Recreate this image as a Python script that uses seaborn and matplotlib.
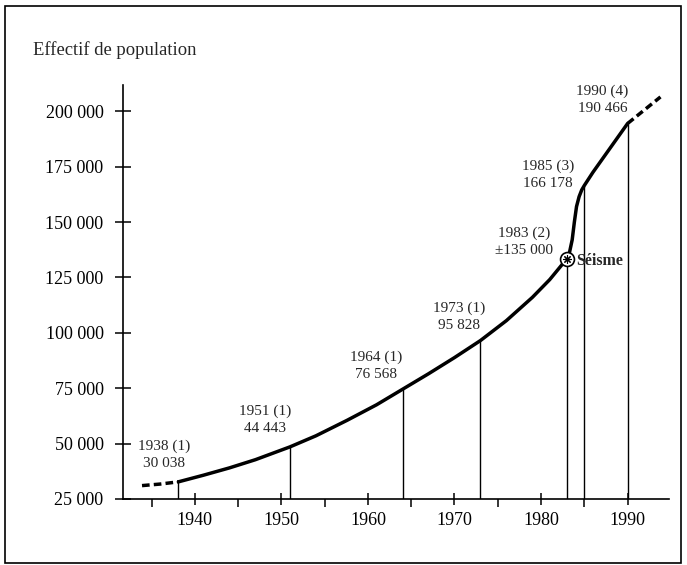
import matplotlib
matplotlib.use("Agg")
import matplotlib.pyplot as plt
import matplotlib.ticker as mticker
from matplotlib.patches import Rectangle
import seaborn as sns

# population curve
curve_years = [1938.1, 1941, 1944, 1947, 1951, 1954, 1957.6, 1961, 1964, 1967,
               1970, 1973, 1976, 1979, 1981, 1983, 1983.3, 1983.6, 1983.85,
               1984.1, 1984.4, 1984.7, 1985, 1985.5, 1986, 1988, 1990]
curve_pop = [32700, 35700, 39000, 42700, 48500, 53500, 60500, 67500, 74500, 81500,
             88800, 96500, 105500, 116000, 124000, 133500, 136500, 142000, 150000,
             157000, 161500, 164500, 166500, 169500, 172500, 183500, 194500]

# dashed extrapolations at both ends
start_years = [1933.9, 1936, 1938.1]
start_pop = [31000, 31700, 32700]
end_years = [1990, 1993.8]
end_pop = [194500, 206500]

# census years (vertical lines) and their labels
census_years = [1938, 1951, 1964, 1973, 1983, 1985, 1990]
census_tops = [32700, 48500, 74500, 96500, 133500, 166500, 194500]
census_labels = ["1938 (1)\n30 038", "1951 (1)\n44 443", "1964 (1)\n76 568",
                 "1973 (1)\n95 828", "1983 (2)\n\u00b1135 000", "1985 (3)\n166 178",
                 "1990 (4)\n190 466"]
label_x = [1936.4, 1948.1, 1960.9, 1970.5, 1978.0, 1980.8, 1987.1]
label_y = [44900, 60700, 85100, 107300, 141200, 171500, 205400]

sns.set_style("ticks")
plt.rcParams['font.family'] = ['Liberation Serif', 'DejaVu Serif']

fig = plt.figure(figsize=(6.87, 5.65), dpi=100)
ax = fig.add_axes([0.179, 0.117, 0.795, 0.733])

sns.lineplot(x=curve_years, y=curve_pop, ax=ax, color='black', lw=2.5,
             solid_joinstyle='round', solid_capstyle='round')
sns.lineplot(x=start_years, y=start_pop, ax=ax, color='black', lw=2.5,
             linestyle=(0, (2.2, 1.2)))
sns.lineplot(x=end_years, y=end_pop, ax=ax, color='black', lw=2.5,
             linestyle=(0, (2.2, 1.2)))

ax.vlines(census_years, 25000, census_tops, color='black', lw=1.0)

for x, y, t in zip(label_x, label_y, census_labels):
    ax.text(x, y, t, ha='center', va='center', fontsize=11, linespacing=1.4)

# earthquake marker
ax.plot(1983, 133500, marker='o', ms=10, mfc='white', mec='black', mew=1.2, zorder=5)
ax.plot(1983, 133500, marker=(8, 2, 0), ms=6, color='black', mew=0.8, zorder=6)
ax.text(1984.1, 132600, "Séisme", ha='left', va='center', fontsize=11.5,
        fontweight='bold')

ax.set_xlim(1931.7, 1994.8)
ax.set_ylim(25000, 212000)
ax.set_yticks(range(25000, 200001, 25000))
ax.yaxis.set_major_formatter(mticker.FuncFormatter(
    lambda v, p: f"{int(v):,}".replace(",", " ")))
ax.xaxis.set_major_locator(mticker.MultipleLocator(10))
ax.xaxis.set_minor_locator(mticker.MultipleLocator(5))

for s in ['top', 'right']:
    ax.spines[s].set_visible(False)
for s in ['left', 'bottom']:
    ax.spines[s].set_linewidth(1.2)
    ax.spines[s].set_color('black')

ax.tick_params(axis='y', direction='inout', length=12, width=1.1, pad=8,
               labelsize=13, colors='black')
ax.tick_params(axis='x', which='major', direction='inout', length=9, width=1.1,
               pad=5, labelsize=13, colors='black')
ax.tick_params(axis='x', which='minor', direction='out', length=6, width=1.1,
               colors='black')
ax.set_xlabel("")
ax.set_ylabel("")

fig.text(33 / 687, 1 - 50 / 565, "Effectif de population", ha='left',
         va='center', fontsize=13.4)

fig.add_artist(Rectangle((5 / 687, 1 - 563 / 565), 676 / 687, 557 / 565,
                         transform=fig.transFigure, fill=False, lw=1.2,
                         edgecolor='black'))

fig.savefig("out.png", dpi=100)
